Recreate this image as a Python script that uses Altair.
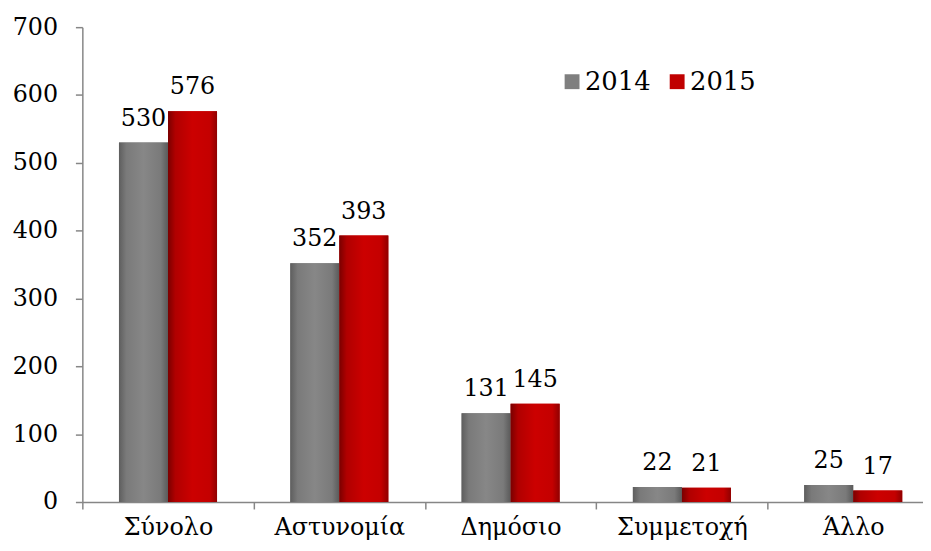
import altair as alt
import pandas as pd

categories = ["Σύνολο", "Αστυνομία", "Δημόσιο", "Συμμετοχή", "Άλλο"]
years = ["2014", "2015"]
v2014 = [530, 352, 131, 22, 25]
v2015 = [576, 393, 145, 21, 17]
colors = ["#7f7f7f", "#c00000"]

rows = []
for c, a, b in zip(categories, v2014, v2015):
    rows.append({"cat": c, "year": "2014", "value": a})
    rows.append({"cat": c, "year": "2015", "value": b})
df = pd.DataFrame(rows)

FONT = "DejaVu Serif"
FS = 24
AXC = "#868686"

x = alt.X(
    "cat:N",
    sort=categories,
    scale=alt.Scale(range=[0, 864], paddingInner=0, paddingOuter=0),
    axis=alt.Axis(
        title=None, labelAngle=0, tickBand="extent", tickSize=7,
        labelPadding=7, labelFontSize=FS, labelFont=FONT, labelColor="#000000",
        domainColor=AXC, tickColor=AXC, domainWidth=1.5, tickWidth=1.5,
    ),
)
xo = alt.XOffset("year:N", sort=years, scale=alt.Scale(paddingOuter=0.747, paddingInner=0))
y = alt.Y(
    "value:Q",
    scale=alt.Scale(domain=[0, 700], nice=False),
    axis=alt.Axis(
        title=None, values=list(range(0, 701, 100)), tickSize=7, labelPadding=18,
        labelFontSize=FS, labelFont=FONT, labelColor="#000000", grid=False,
        domainColor=AXC, tickColor=AXC, domainWidth=1.5, tickWidth=1.5,
    ),
)

base = alt.Chart(df)

bars = base.mark_bar().encode(
    x=x, xOffset=xo, y=y,
    color=alt.Color(
        "year:N", sort=years,
        scale=alt.Scale(domain=years, range=colors),
        legend=alt.Legend(
            title=None, orient="none", legendX=481, legendY=42, direction="horizontal",
            symbolType="square", symbolSize=225, symbolStrokeWidth=0,
            labelFontSize=26, labelFont=FONT, labelColor="#000000",
            columnPadding=13, labelOffset=0,
        ),
    ),
)

grad_gray = {
    "gradient": "linear", "x1": 0, "y1": 0, "x2": 1, "y2": 0,
    "stops": [
        {"offset": 0, "color": "#5e5e5e"},
        {"offset": 0.15, "color": "#7a7a7a"},
        {"offset": 0.5, "color": "#878787"},
        {"offset": 0.85, "color": "#7a7a7a"},
        {"offset": 1, "color": "#5a5a5a"},
    ],
}
grad_red = {
    "gradient": "linear", "x1": 0, "y1": 0, "x2": 1, "y2": 0,
    "stops": [
        {"offset": 0, "color": "#7a0000"},
        {"offset": 0.15, "color": "#b00000"},
        {"offset": 0.5, "color": "#cc0000"},
        {"offset": 0.85, "color": "#c40000"},
        {"offset": 1, "color": "#900000"},
    ],
}

over_gray = base.transform_filter(alt.datum.year == "2014").mark_bar(color=grad_gray).encode(x=x, xOffset=xo, y=y)
over_red = base.transform_filter(alt.datum.year == "2015").mark_bar(color=grad_red).encode(x=x, xOffset=xo, y=y)

labels = base.mark_text(
    font=FONT, fontSize=FS, color="#000000", baseline="alphabetic", dy=-17
).encode(x=x, xOffset=xo, y=y, text=alt.Text("value:Q"))

chart = alt.layer(bars, over_gray, over_red, labels).properties(
    width=848, height=479,
    autosize=alt.AutoSizeParams(type="none"),
    padding={"left": 75, "top": 17, "right": 0, "bottom": 39},
).configure_view(stroke=None)

chart.save("out.html", embed_options={"renderer": "svg", "actions": False})
